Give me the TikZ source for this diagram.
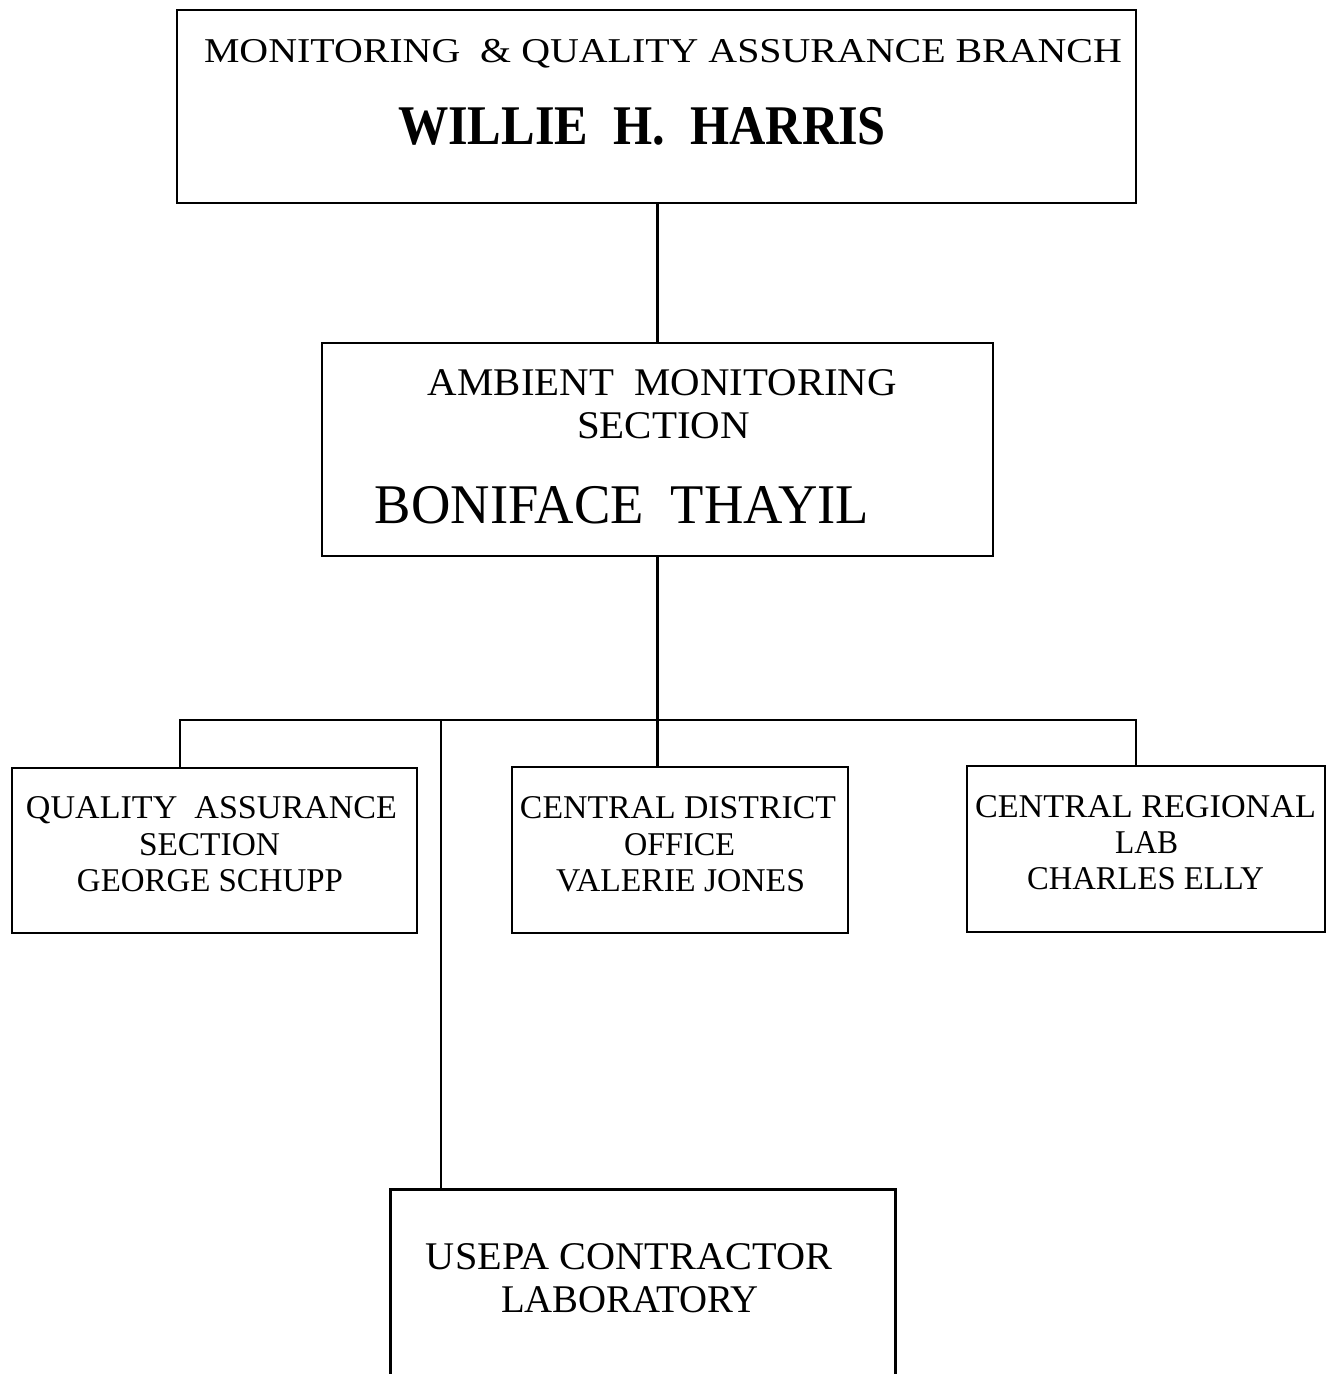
\documentclass[tikz,border=0pt]{standalone}
\usepackage{fontspec}
\setmainfont{Liberation Serif}
\usepackage{graphicx}
\newcommand{\fitw}[3]{\resizebox{#1pt}{\height}{\fontsize{#2}{#2}\selectfont #3}}
\begin{document}
\begin{tikzpicture}[x=0.5pt,y=-0.5pt,
  box/.style={draw,line width=1.3pt,rectangle,inner sep=0pt},
  conn/.style={line width=1.1pt},
  txt/.style={anchor=base,inner sep=0pt,outer sep=0pt}]
\useasboundingbox (0,0) rectangle (1327,1374);
% boxes
\node[box,minimum width=479.5pt,minimum height=96.5pt] (top) at (656.5,106.5) {};
\node[box,minimum width=335.5pt,minimum height=106.5pt] (mid) at (657.5,449.5) {};
\node[box,minimum width=202.5pt,minimum height=82.5pt] (qa) at (214.5,850.5) {};
\node[box,minimum width=168pt,minimum height=83pt] (cdo) at (680,850) {};
\node[box,minimum width=179pt,minimum height=83pt] (crl) at (1146,849) {};
\node[inner sep=0pt,minimum width=252pt,minimum height=100pt] (usepa) at (643,1290) {};
\draw[line width=1.3pt] (usepa.south west) -- (usepa.north west) -- (usepa.north east) -- (usepa.south east);
% texts
\node[txt] (t1) at (663,63) {\fitw{459}{17.4pt}{MONITORING \ \& QUALITY ASSURANCE BRANCH}};
\node[txt] (t2) at (642,145) {\fitw{244}{28pt}{\bfseries WILLIE \ H. \ HARRIS}};
\node[txt] (m1) at (662.5,395) {\fitw{234.5}{19.6pt}{AMBIENT \ MONITORING}};
\node[txt] (m2) at (663.5,438) {\fitw{86.5}{19.6pt}{SECTION}};
\node[txt] (m3) at (622,523) {\fitw{247}{28pt}{BONIFACE \ THAYIL}};
\node[txt] (q1) at (211.5,818) {\fitw{185.5}{16.6pt}{QUALITY \ ASSURANCE}};
\node[txt] (q2) at (209.5,855) {\fitw{70.5}{16.6pt}{SECTION}};
\node[txt] (q3) at (210,891) {\fitw{133}{16.6pt}{GEORGE SCHUPP}};
\node[txt] (c1) at (678,818) {\fitw{158}{16.6pt}{CENTRAL DISTRICT}};
\node[txt] (c2) at (679.5,855) {\fitw{55.5}{16.6pt}{OFFICE}};
\node[txt] (c3) at (680.5,891) {\fitw{124.5}{16.6pt}{VALERIE JONES}};
\node[txt] (r1) at (1145.5,817) {\fitw{170.5}{16.6pt}{CENTRAL REGIONAL}};
\node[txt] (r2) at (1146.5,853) {\fitw{31.5}{16.6pt}{LAB}};
\node[txt] (r3) at (1145.5,889) {\fitw{118.5}{16.6pt}{CHARLES ELLY}};
\node[txt] (u1) at (629,1269) {\fitw{203}{19.6pt}{USEPA CONTRACTOR}};
\node[txt] (u2) at (630,1312) {\fitw{129}{19.6pt}{LABORATORY}};
% connectors
\coordinate (busl) at (180,720);
\coordinate (busr) at (1136,720);
\coordinate (busu) at (441,720);
\draw[conn] (mid.north |- top.south) -- (mid.north);
\draw[conn] (mid.south) -- (mid.south |- busl);
\draw[conn] (qa.north -| busl) -- (busl) -- (busr) -- (crl.north -| busr);
\draw[conn] (mid.south |- busl) -- (cdo.north -| mid.south);
\draw[conn] (busu) -- (usepa.north -| busu);
\end{tikzpicture}
\end{document}
